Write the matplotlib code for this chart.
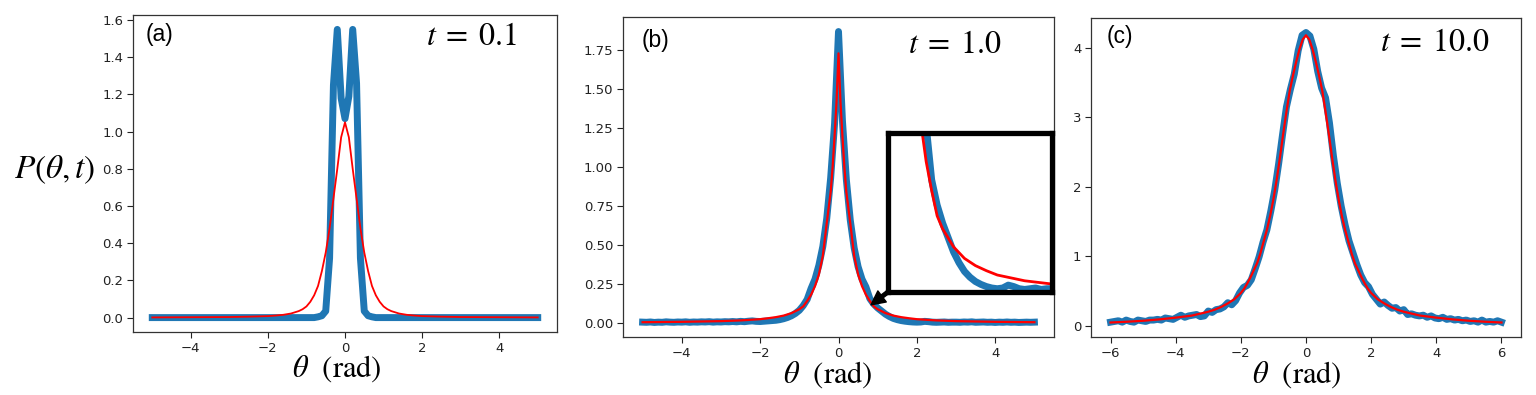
import numpy as np
import matplotlib
matplotlib.use("Agg")
import matplotlib.pyplot as plt

plt.rcParams['mathtext.fontset'] = 'stix'

# ---------------- data ----------------
# panel (a), t = 0.1
theta_a = np.linspace(-5, 5, 101)
sim_a = ([0.0] * 43 +
         [0.004, 0.01, 0.035, 0.32, 1.25, 1.55, 1.18, 1.07, 1.19, 1.55, 1.26, 0.32, 0.035, 0.01, 0.004] +
         [0.0] * 43)
theory_a_x = [-5, -4, -3, -2.5, -2, -1.8, -1.6, -1.4, -1.2, -1.1, -1.0, -0.9, -0.8, -0.7, -0.6,
              -0.5, -0.4, -0.3, -0.2, -0.1, 0.0, 0.1, 0.2, 0.3, 0.4, 0.5, 0.6, 0.7, 0.8, 0.9,
              1.0, 1.1, 1.2, 1.4, 1.6, 1.8, 2.0, 2.5, 3, 4, 5]
theory_a = [0.001, 0.002, 0.003, 0.005, 0.008, 0.011, 0.015, 0.022, 0.035, 0.045, 0.06, 0.085,
            0.12, 0.17, 0.25, 0.35, 0.48, 0.64, 0.80, 0.97, 1.05, 0.97, 0.80, 0.64, 0.48, 0.35,
            0.25, 0.17, 0.12, 0.085, 0.06, 0.045, 0.035, 0.022, 0.015, 0.011, 0.008, 0.005,
            0.003, 0.002, 0.001]

# panel (b), t = 1.0
theta_b = np.linspace(-5, 5, 101)
sim_b = [0.004, 0.003, 0.005, 0.002, 0.004, 0.003, 0.006, 0.004, 0.003, 0.005,
         0.004, 0.006, 0.003, 0.005, 0.004, 0.006, 0.005, 0.007, 0.004, 0.006,
         0.005, 0.007, 0.006, 0.008, 0.006, 0.009, 0.007, 0.010, 0.012, 0.009,
         0.008, 0.010, 0.012, 0.014, 0.016, 0.020, 0.026, 0.034, 0.045, 0.060,
         0.080, 0.110, 0.150, 0.220, 0.280, 0.370, 0.490, 0.670, 0.930, 1.280,
         1.870,
         1.300, 0.920, 0.660, 0.480, 0.360, 0.280, 0.230, 0.155, 0.120, 0.095,
         0.075, 0.055, 0.040, 0.028, 0.020, 0.014, 0.010, 0.007, 0.005, 0.004,
         0.005, 0.009, 0.007, 0.004, 0.003, 0.004, 0.005, 0.003, 0.004, 0.004,
         0.003, 0.005, 0.004, 0.006, 0.003, 0.004, 0.005, 0.003, 0.004, 0.002,
         0.004, 0.003, 0.005, 0.003, 0.004, 0.002, 0.003, 0.004, 0.003, 0.004]
theory_b_x = [-5, -4, -3, -2.5, -2, -1.8, -1.6, -1.4, -1.2, -1.0, -0.9, -0.8, -0.7, -0.6, -0.5,
              -0.4, -0.3, -0.25, -0.2, -0.15, -0.1, -0.05, 0.0, 0.05, 0.1, 0.15, 0.2, 0.25,
              0.3, 0.4, 0.5, 0.6, 0.7, 0.8, 0.9, 1.0, 1.2, 1.4, 1.6, 1.8, 2.0, 2.5, 3, 4, 5]
theory_b = [0.0036, 0.006, 0.0105, 0.015, 0.023, 0.029, 0.036, 0.046, 0.062, 0.087, 0.105,
            0.14, 0.18, 0.235, 0.31, 0.43, 0.64, 0.74, 0.84, 1.00, 1.20, 1.42, 1.73, 1.42,
            1.20, 1.00, 0.84, 0.74, 0.64, 0.43, 0.31, 0.235, 0.18, 0.14, 0.105, 0.087, 0.062,
            0.046, 0.036, 0.029, 0.023, 0.015, 0.0105, 0.006, 0.0036]

# panel (c), t = 10.0
theta_c = np.linspace(-6, 6, 101)
sim_c = [0.05, 0.06, 0.07, 0.05, 0.08, 0.06, 0.05, 0.08, 0.07, 0.06,
         0.08, 0.08, 0.09, 0.08, 0.11, 0.10, 0.09, 0.12, 0.15, 0.12,
         0.14, 0.15, 0.16, 0.13, 0.14, 0.21, 0.19, 0.23, 0.24, 0.27,
         0.33, 0.30, 0.36, 0.47, 0.55, 0.58, 0.66, 0.82, 0.99, 1.20,
         1.38, 1.65, 1.95, 2.33, 2.75, 3.15, 3.40, 3.62, 3.96, 4.18,
         4.22,
         4.17, 3.98, 3.66, 3.42, 3.28, 2.92, 2.45, 2.05, 1.72, 1.45,
         1.22, 1.05, 0.88, 0.73, 0.62, 0.56, 0.45, 0.38, 0.31, 0.34,
         0.29, 0.25, 0.26, 0.21, 0.23, 0.16, 0.17, 0.15, 0.14, 0.15,
         0.12, 0.14, 0.11, 0.10, 0.12, 0.09, 0.10, 0.08, 0.09, 0.07,
         0.08, 0.06, 0.07, 0.05, 0.08, 0.05, 0.06, 0.05, 0.07, 0.05]
theory_c_x = [-6, -5.5, -5, -4.5, -4, -3.5, -3, -2.8, -2.6, -2.4, -2.2, -2.0, -1.9, -1.8, -1.7,
              -1.6, -1.5, -1.4, -1.3, -1.2, -1.1, -1.0, -0.9, -0.8, -0.7, -0.6, -0.5, -0.4,
              -0.3, -0.2, -0.1, 0.0, 0.1, 0.2, 0.3, 0.4, 0.5, 0.6, 0.7, 0.8, 0.9, 1.0, 1.1,
              1.2, 1.3, 1.4, 1.5, 1.6, 1.7, 1.8, 1.9, 2.0, 2.2, 2.4, 2.6, 2.8, 3.0, 3.5, 4.0,
              4.5, 5.0, 5.5, 6.0]
theory_c = [0.045, 0.056, 0.07, 0.09, 0.115, 0.145, 0.20, 0.23, 0.27, 0.32, 0.38, 0.47, 0.53,
            0.61, 0.70, 0.80, 0.90, 1.04, 1.21, 1.38, 1.58, 1.82, 2.10, 2.42, 2.76, 3.08, 3.38,
            3.60, 3.80, 3.98, 4.12, 4.18, 4.12, 3.98, 3.80, 3.60, 3.38, 3.08, 2.76, 2.42, 2.10,
            1.82, 1.58, 1.38, 1.21, 1.04, 0.90, 0.80, 0.70, 0.61, 0.53, 0.47, 0.38, 0.32, 0.27,
            0.23, 0.20, 0.145, 0.115, 0.09, 0.07, 0.056, 0.045]

panel_labels = ['(a)', '(b)', '(c)']
time_labels = [r'$t\;=\;0.1$', r'$t\;=\;1.0$', r'$t\;=\;10.0$']
inset_xlim = (0.0, 3.0)
inset_ylim = (0.0, 0.22)

# ---------------- figure ----------------
W, H = 1536, 395
fig = plt.figure(figsize=(W / 100, H / 100), dpi=100)


def px_axes(l, t, r, b):
    return fig.add_axes([l / W, (H - b) / H, (r - l) / W, (b - t) / H])


def fy(y):
    return (H - y) / H


axA = px_axes(133, 15, 557, 332)
axB = px_axes(623, 17, 1054, 337)
axC = px_axes(1091, 18, 1521, 337)

BLUE = '#1f77b4'
for ax in (axA, axB, axC):
    for s in ax.spines.values():
        s.set_color('#333333')
        s.set_linewidth(0.9)
    ax.tick_params(labelsize=9.5, colors='#222222', length=4, width=0.8, pad=3)

axA.plot(theta_a, sim_a, color=BLUE, lw=5)
axA.plot(theory_a_x, theory_a, color='red', lw=1.3)
axA.set_xticks([-4, -2, 0, 2, 4])

axB.plot(theta_b, sim_b, color=BLUE, lw=5)
axB.plot(theory_b_x, theory_b, color='red', lw=1.6)
axB.set_xticks([-4, -2, 0, 2, 4])

axC.plot(theta_c, sim_c, color=BLUE, lw=5)
axC.plot(theory_c_x, theory_c, color='red', lw=1.6)
axC.set_xticks([-6, -4, -2, 0, 2, 4, 6])

# inset in (b)
ins = axB.inset_axes([1.26, 0.2, 4.19, 1.02], transform=axB.transData)
ins.plot(theta_b, sim_b, color=BLUE, lw=5)
ins.plot(theory_b_x, theory_b, color='red', lw=2)
ins.set_xlim(*inset_xlim)
ins.set_ylim(*inset_ylim)
ins.set_xticks([])
ins.set_yticks([])
for s in ins.spines.values():
    s.set_color('black')
    s.set_linewidth(3.8)
axB.annotate('', xy=(0.83, 0.115), xytext=(1.30, 0.205), xycoords='data',
             arrowprops=dict(facecolor='black', edgecolor='black', width=2.5,
                             headwidth=10, headlength=10, shrink=0))

# texts
for lab, tl, (lx, ly), (tx, ty) in zip(
        panel_labels, time_labels,
        [(146, 41), (642, 47), (1107, 43)],
        [(426, 45), (908, 53), (1380, 51)]):
    fig.text(lx / W, fy(ly), lab, fontsize=16.5, family='Liberation Sans',
             va='baseline', ha='left', color='black')
    fig.text(tx / W, fy(ty), tl, fontsize=23, va='baseline', ha='left', color='black')

for cx, by in ((337, 377), (828, 383), (1297, 383)):
    fig.text(cx / W, fy(by), r'$\theta$  (rad)', fontsize=22, family='STIXGeneral',
             ha='center', va='baseline', color='black')

fig.text(55 / W, fy(178), r'$P(\theta,t)$', fontsize=24, ha='center', va='baseline',
         color='black')

fig.savefig('out.png', dpi=100)
